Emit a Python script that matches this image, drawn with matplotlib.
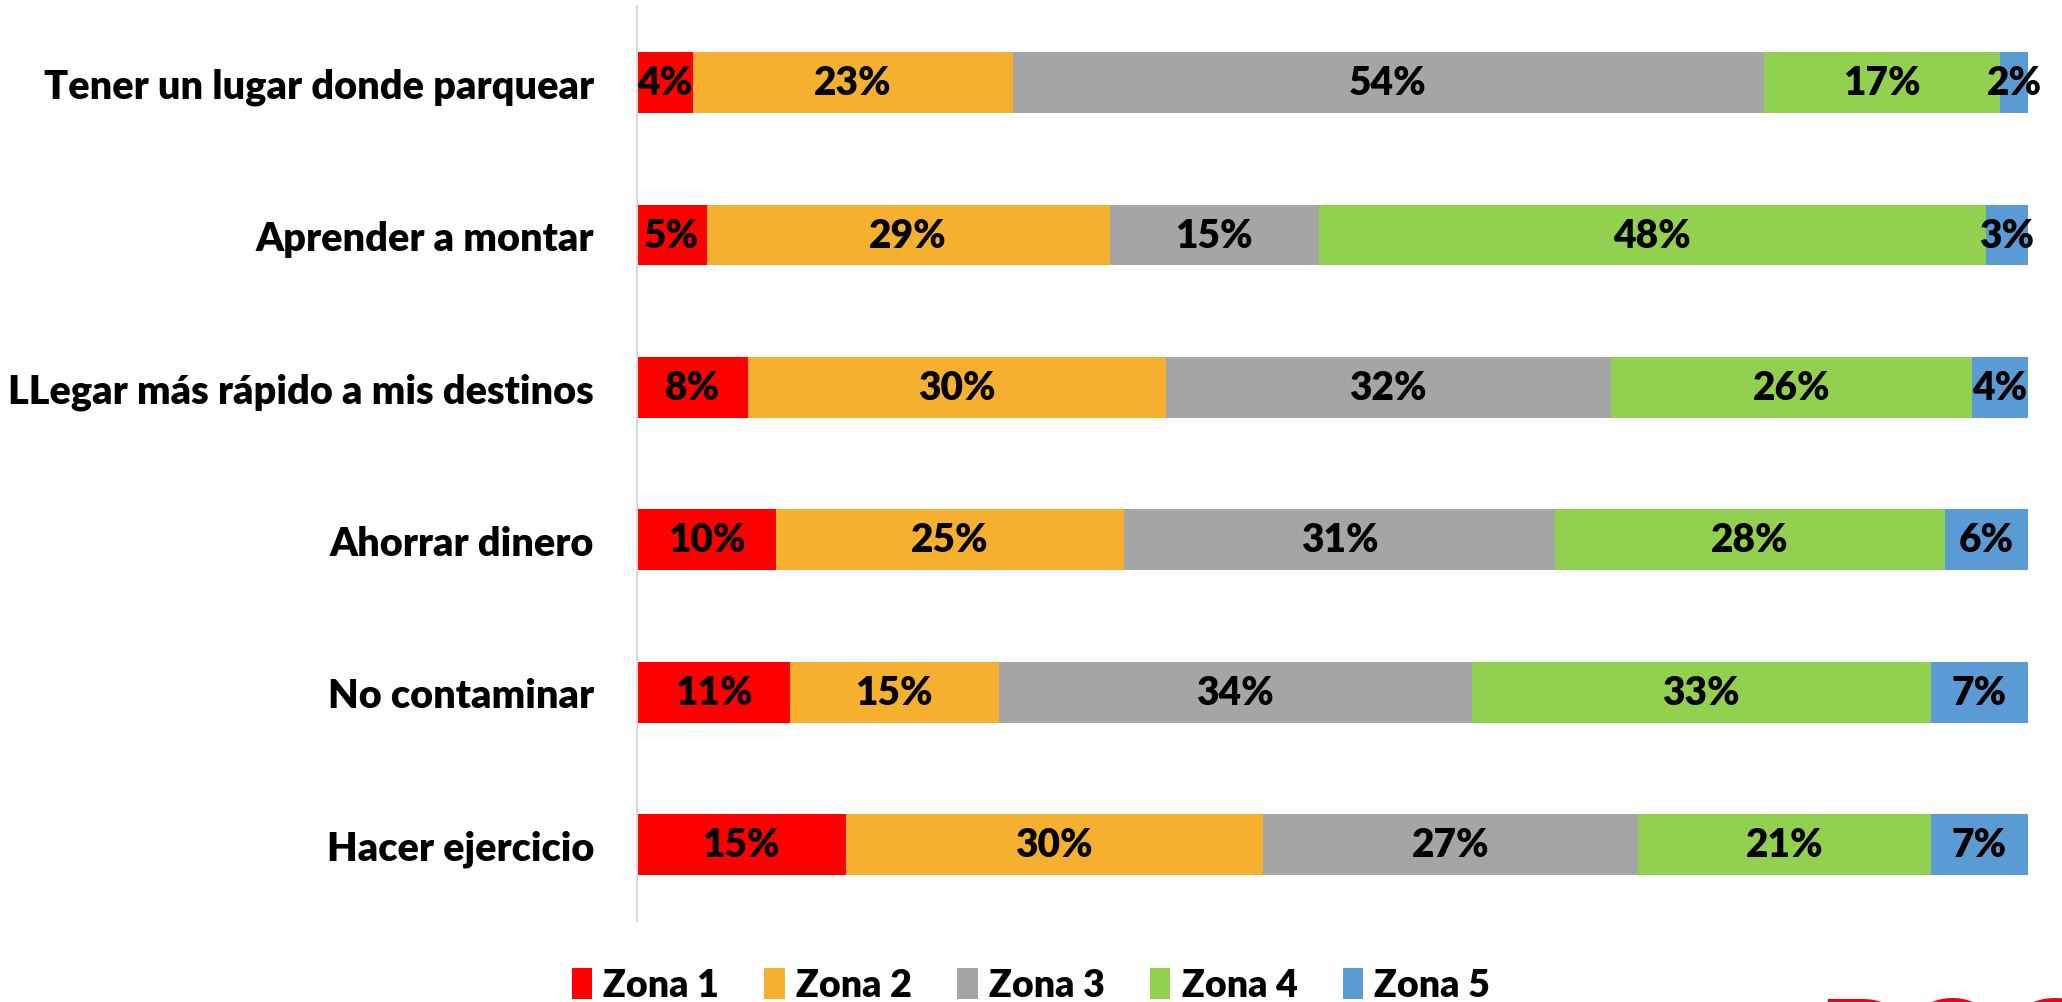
import matplotlib
matplotlib.use("Agg")
import matplotlib.pyplot as plt
import numpy as np

categories = ["Tener un lugar donde parquear", "Aprender a montar",
              "LLegar más rápido a mis destinos", "Ahorrar dinero",
              "No contaminar", "Hacer ejercicio"]
zona1 = [4, 5, 8, 10, 11, 15]
zona2 = [23, 29, 30, 25, 15, 30]
zona3 = [54, 15, 32, 31, 34, 27]
zona4 = [17, 48, 26, 28, 33, 21]
zona5 = [2, 3, 4, 6, 7, 7]
series_names = ["Zona 1", "Zona 2", "Zona 3", "Zona 4", "Zona 5"]
colors = ["#FF0000", "#F4B02E", "#A5A5A5", "#92D050", "#5B9BD5"]

FONT = ["Lato", "DejaVu Sans"]
plt.rcParams['font.family'] = FONT
W = "heavy"

fig = plt.figure(figsize=(20.62, 10.03), dpi=100)
ax = fig.add_axes([0.3089, 0.0807, 0.6746, 0.912])

series = [zona1, zona2, zona3, zona4, zona5]
y = np.arange(len(categories))
left = np.zeros(len(categories))
handles = []
for name, vals, c in zip(series_names, series, colors):
    vals = np.array(vals, dtype=float)
    bars = ax.barh(y, vals, left=left, height=0.4, color=c, label=name, linewidth=0)
    handles.append(bars)
    for yi, l, v in zip(y, left, vals):
        ax.text(l + v / 2, yi, f"{int(v)}%", ha="center", va="center",
                fontsize=28, fontweight=W, color="black")
    left += vals

ax.set_xlim(0, 100)
ax.set_ylim(len(categories) - 0.5, -0.5)
ax.set_yticks(y)
ax.set_yticklabels(categories, fontsize=28.5, fontweight=W)
ax.tick_params(axis="y", length=0, pad=31)
ax.set_xticks([])
for s in ["top", "right", "bottom"]:
    ax.spines[s].set_visible(False)
ax.spines["left"].set_color("#D9D9D9")
ax.spines["left"].set_linewidth(1.5)

leg = fig.legend(handles=handles, labels=series_names, loc="center",
                 bbox_to_anchor=(0.5, 0.017), ncol=5, frameon=False,
                 prop={"family": FONT, "weight": W, "size": 27},
                 handlelength=0.55, handleheight=0.9, handletextpad=0.3,
                 columnspacing=1.2)

# partially visible logo at bottom-right
fig.text(0.882, -0.108, "BOGOTÁ", color="#E3051B", fontsize=90,
         fontweight="heavy", ha="left", va="bottom")

fig.savefig("out.png", dpi=100)
